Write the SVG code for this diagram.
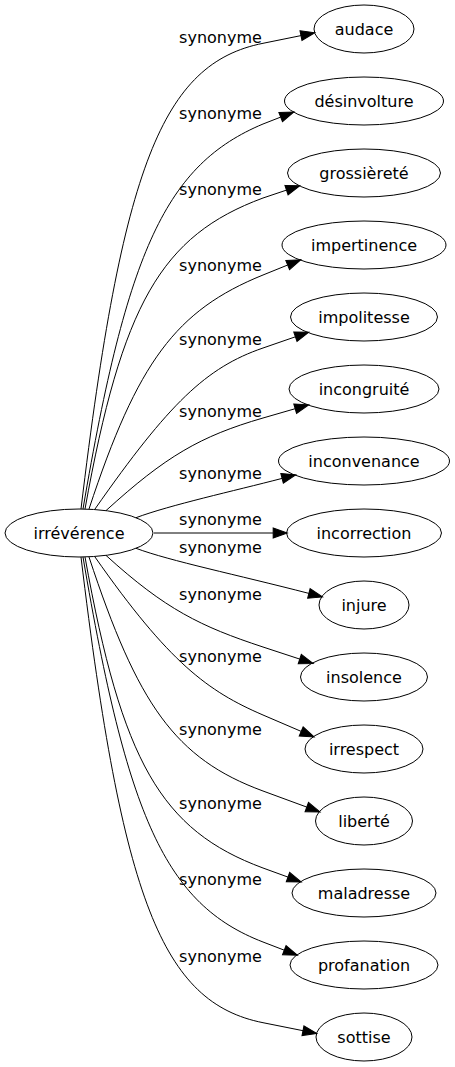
<svg xmlns="http://www.w3.org/2000/svg" width="455" height="1067" viewBox="0 0 455 1067">
<defs>
<style>
.n ellipse{fill:none;stroke:#000;stroke-width:1}
.n text{font-family:"DejaVu Sans",sans-serif;font-size:16px;text-anchor:middle;fill:#000}
.e path{fill:none;stroke:#000;stroke-width:1;marker-end:url(#arr)}
.lbl{font-family:"DejaVu Sans",sans-serif;font-size:16px;text-anchor:middle;fill:#000}
</style>
<marker id="arr" markerUnits="userSpaceOnUse" markerWidth="14" markerHeight="10" viewBox="0 0 13.3 9.4" refX="0" refY="4.7" orient="auto" overflow="visible">
<path d="M0,0 L13.3,4.7 L0,9.4 z" fill="#000" stroke="#000" stroke-width="1"/>
</marker>
</defs>
<rect width="455" height="1067" fill="#fff"/>
<g id="edges" class="e">
<path d="M81,509 C122.2,165.9 162.3,63.4 263,43.3 L301,35.6"/>
<path d="M83,509 C127.2,249.2 166.5,164.5 263,124 L280.7,117.1"/>
<path d="M85,509 C121.9,304.2 161,235.7 263,198 L286.5,190.1"/>
<path d="M89,509 C137.6,361.7 175.9,310.3 263,275 L287.7,265"/>
<path d="M95,509 C169.2,403 206.2,367.5 263,348 L295.4,336.8"/>
<path d="M106,510.6 C165.4,456.6 200,436.2 263,418 L295.2,408.7"/>
<path d="M136,517.7 C170,505 233.7,491 282.1,478.4"/>
<path d="M154,533 L273.2,533"/>
<path d="M136,548.3 C170,561 236.3,574.6 308.9,593.4"/>
<path d="M106,555.4 C165.4,609.4 200.7,626.5 263,647 L299.8,659.1"/>
<path d="M95,557 C169.2,663 207.9,691.3 263,715 L301.2,731.4"/>
<path d="M89,557 C137.6,704.3 174.8,758.6 263,791 L306.8,807.1"/>
<path d="M85,557 C121.9,761.8 161,830.3 263,868 L288,877.1"/>
<path d="M83,557 C127.2,816.8 165.3,904.3 263,942 L284.3,950.2"/>
<path d="M81,557 C122.2,900.1 162.3,1002.6 263,1022.7 L303,1030.7"/>
</g>
<g id="edge-labels">
<text class="lbl" x="220.5" y="43">synonyme</text>
<text class="lbl" x="220.5" y="119">synonyme</text>
<text class="lbl" x="220.5" y="195">synonyme</text>
<text class="lbl" x="220.5" y="270.5">synonyme</text>
<text class="lbl" x="220.5" y="345">synonyme</text>
<text class="lbl" x="220.5" y="417">synonyme</text>
<text class="lbl" x="220.5" y="479">synonyme</text>
<text class="lbl" x="220.5" y="525">synonyme</text>
<text class="lbl" x="220.5" y="553">synonyme</text>
<text class="lbl" x="220.5" y="600">synonyme</text>
<text class="lbl" x="220.5" y="662">synonyme</text>
<text class="lbl" x="220.5" y="735">synonyme</text>
<text class="lbl" x="220.5" y="809">synonyme</text>
<text class="lbl" x="220.5" y="885">synonyme</text>
<text class="lbl" x="220.5" y="962">synonyme</text>
</g>
<g id="irreverence" class="n"><ellipse cx="79" cy="533" rx="74" ry="24"/><text x="79" y="539">irrévérence</text></g>
<g id="audace" class="n"><ellipse cx="364" cy="29" rx="50" ry="24"/><text x="364" y="35">audace</text></g>
<g id="desinvolture" class="n"><ellipse cx="364" cy="101" rx="79.5" ry="24"/><text x="364" y="107">désinvolture</text></g>
<g id="grossierete" class="n"><ellipse cx="364" cy="173" rx="76.5" ry="24"/><text x="364" y="179">grossièreté</text></g>
<g id="impertinence" class="n"><ellipse cx="364" cy="245" rx="82" ry="24"/><text x="364" y="251">impertinence</text></g>
<g id="impolitesse" class="n"><ellipse cx="364" cy="317" rx="73.5" ry="24"/><text x="364" y="323">impolitesse</text></g>
<g id="incongruite" class="n"><ellipse cx="364" cy="389" rx="75" ry="24"/><text x="364" y="395">incongruité</text></g>
<g id="inconvenance" class="n"><ellipse cx="364" cy="461" rx="85.5" ry="24"/><text x="364" y="467">inconvenance</text></g>
<g id="incorrection" class="n"><ellipse cx="364" cy="533" rx="77.5" ry="24"/><text x="364" y="539">incorrection</text></g>
<g id="injure" class="n"><ellipse cx="364" cy="605" rx="45" ry="24"/><text x="364" y="611">injure</text></g>
<g id="insolence" class="n"><ellipse cx="364" cy="677" rx="63.5" ry="24"/><text x="364" y="683">insolence</text></g>
<g id="irrespect" class="n"><ellipse cx="364" cy="749" rx="59" ry="24"/><text x="364" y="755">irrespect</text></g>
<g id="liberte" class="n"><ellipse cx="364" cy="821" rx="48.5" ry="24"/><text x="364" y="827">liberté</text></g>
<g id="maladresse" class="n"><ellipse cx="364" cy="893" rx="72" ry="24"/><text x="364" y="899">maladresse</text></g>
<g id="profanation" class="n"><ellipse cx="364" cy="965" rx="74" ry="24"/><text x="364" y="971">profanation</text></g>
<g id="sottise" class="n"><ellipse cx="364" cy="1037" rx="48" ry="24"/><text x="364" y="1043">sottise</text></g>
</svg>
